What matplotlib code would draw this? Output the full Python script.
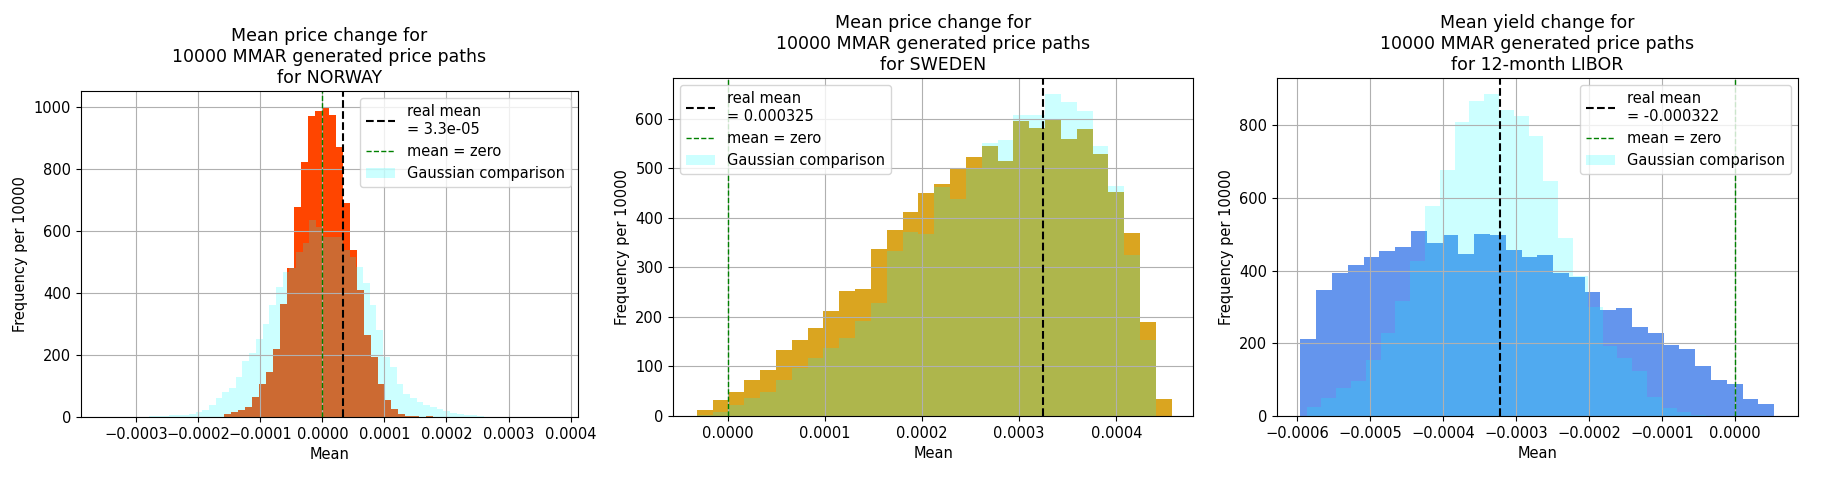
import matplotlib
matplotlib.use("Agg")
import matplotlib.pyplot as plt
from matplotlib.ticker import MultipleLocator
import numpy as np

# --- NORWAY ---
nor_edges = np.linspace(-0.000159, 0.000179, 31)
nor_counts = [11, 16, 22, 32, 65, 108, 145, 221, 366, 480,
              679, 824, 972, 986, 1002, 975, 873, 690, 539, 410,
              264, 194, 108, 54, 27, 11, 4, 2, 0, 3]
nor_gauss_edges = np.linspace(-0.00028, 0.00026, 51)
nor_gauss = [2, 3, 4, 5, 6, 8, 10, 16, 22, 40,
             60, 80, 95, 129, 180, 205, 253, 300, 360, 420,
             469, 480, 533, 560, 636, 614, 582, 582, 582, 539,
             517, 485, 431, 361, 280, 194, 162, 108, 75, 60,
             48, 38, 32, 27, 20, 14, 10, 8, 5, 3]
nor_mean = 3.3e-05

# --- SWEDEN ---
swe_edges = np.linspace(-0.0000317, 0.000457, 31)
swe_counts = [12, 33, 49, 73, 92, 134, 153, 178, 212, 252,
              256, 338, 375, 412, 451, 469, 500, 523, 546, 514,
              595, 582, 597, 559, 580, 529, 453, 370, 190, 34]
swe_gauss = [2, 9, 22, 36, 49, 73, 97, 117, 138, 158,
             192, 229, 334, 372, 368, 462, 439, 500, 551, 558,
             607, 607, 650, 635, 616, 546, 465, 326, 154, 0]
swe_mean = 0.000325

# --- 12-month LIBOR ---
lib_edges = np.linspace(-0.000596, 0.000054, 31)
lib_counts = [212, 348, 393, 417, 439, 454, 466, 508, 477, 498,
              445, 500, 499, 456, 438, 442, 393, 382, 342, 293,
              298, 245, 229, 196, 185, 139, 98, 87, 48, 34]
lib_gauss_edges = np.linspace(-0.0005875, -0.0000394, 28)
lib_gauss = [26, 49, 76, 95, 155, 229, 316, 427, 579, 676,
             809, 867, 886, 843, 825, 770, 648, 491, 385, 300,
             192, 160, 123, 53, 21, 12, 4]
lib_mean = -0.000322

panels = [
    dict(title="Mean price change for\n10000 MMAR generated price paths\nfor NORWAY",
         edges=nor_edges, counts=nor_counts, gedges=nor_gauss_edges, gauss=nor_gauss,
         mean=nor_mean, mean_txt="3.3e-05", color="orangered", loc="upper right",
         pos=[0.0443, 0.1294, 0.2719, 0.6806], xlim=(-0.000389, 0.000412)),
    dict(title="Mean price change for\n10000 MMAR generated price paths\nfor SWEDEN",
         edges=swe_edges, counts=swe_counts, gedges=swe_edges, gauss=swe_gauss,
         mean=swe_mean, mean_txt="0.000325", color="goldenrod", loc="upper left",
         pos=[0.3682, 0.1315, 0.2845, 0.7056], xlim=(-0.000056, 0.000479)),
    dict(title="Mean yield change for\n10000 MMAR generated price paths\nfor 12-month LIBOR",
         edges=lib_edges, counts=lib_counts, gedges=lib_gauss_edges, gauss=lib_gauss,
         mean=lib_mean, mean_txt="-0.000322", color="cornflowerblue", loc="upper right",
         pos=[0.6986, 0.1315, 0.2850, 0.7056], xlim=(-0.000628, 0.0000866)),
]

fig = plt.figure(figsize=(18.28, 4.79), dpi=100)

for p in panels:
    ax = fig.add_axes(p["pos"])
    e = p["edges"]
    ax.hist(e[:-1], bins=e, weights=p["counts"], color=p["color"])
    ax.axvline(p["mean"], color="k", linestyle="--", linewidth=1.5,
               label="real mean\n= " + p["mean_txt"])
    ax.axvline(0, color="g", linestyle="--", linewidth=1.0, label="mean = zero")
    ge = p["gedges"]
    ax.hist(ge[:-1], bins=ge, weights=p["gauss"], color="cyan", alpha=0.2,
            label="Gaussian comparison")
    ax.set_xlim(*p["xlim"])
    ax.xaxis.set_major_locator(MultipleLocator(0.0001))
    ax.grid(True)
    ax.set_title(p["title"], fontsize=12.5)
    ax.set_xlabel("Mean", fontsize=10.5)
    ax.set_ylabel("Frequency per 10000", fontsize=10.5)
    ax.tick_params(labelsize=10.5)
    ax.legend(loc=p["loc"], fontsize=10.5)

fig.savefig("out.png", dpi=100)
